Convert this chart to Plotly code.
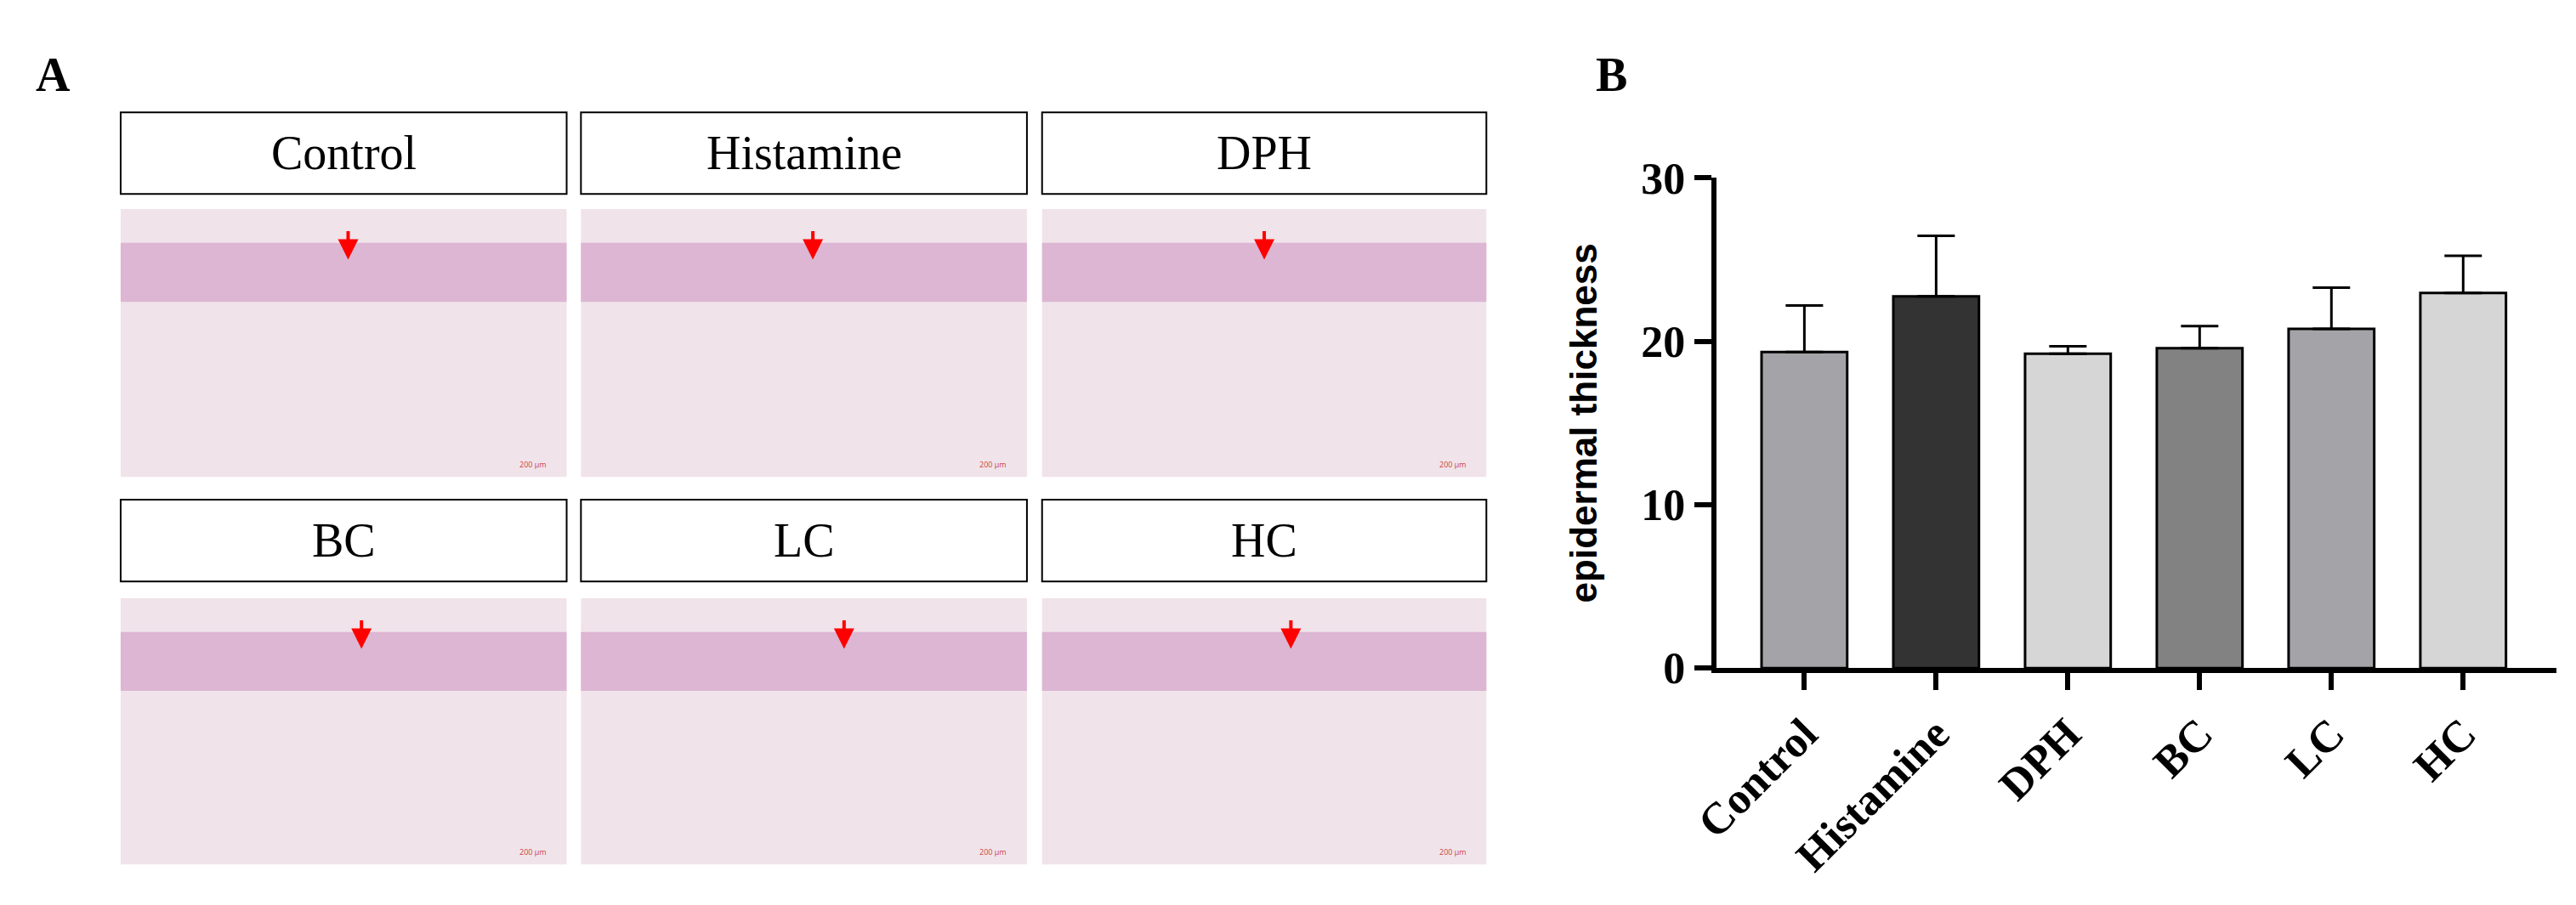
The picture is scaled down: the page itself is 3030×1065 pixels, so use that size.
import plotly.graph_objects as go

categories = ["Control", "Histamine", "DPH", "BC", "LC", "HC"]
means = [19.35, 22.76, 19.25, 19.58, 20.77, 22.96]
err_top = [22.2, 26.46, 19.7, 20.94, 23.29, 25.24]
colors = ["#a4a3a8", "#333333", "#d6d6d6", "#828282", "#a4a3a8", "#d6d6d6"]
errs = [t - m for t, m in zip(err_top, means)]
panel_labels = [["Control", "Histamine", "DPH"], ["BC", "LC", "HC"]]
arrow_x = [[0.51, 0.52, 0.50], [0.54, 0.59, 0.56]]

W, H = 3030, 1065
fig = go.Figure()
fig.add_trace(go.Bar(
    x=categories, y=means, marker=dict(color=colors, line=dict(color="black", width=3)),
    width=0.65,
    error_y=dict(type="data", symmetric=False, array=errs, arrayminus=[0]*6,
                 color="black", thickness=3, width=22),
))

def px(x): return (x - 17) / W
def pxa(x): return (x - 36) / W
def py(y): return 1 - ((y - 35) / 0.955) / H

shapes, ann = [], []
cols = [(140, 670), (687, 1217), (1235, 1763)]
rows = [((132, 229), (247, 565)), ((592, 689), (709, 1025))]
for r, ((ly0, ly1), (iy0, iy1)) in enumerate(rows):
    for c, (x0, x1) in enumerate(cols):
        shapes.append(dict(type="rect", xref="paper", yref="paper", x0=pxa(x0), x1=pxa(x1),
                           y0=py(ly1), y1=py(ly0), line=dict(color="black", width=2), fillcolor="white"))
        shapes.append(dict(type="rect", xref="paper", yref="paper", x0=pxa(x0), x1=pxa(x1),
                           y0=py(iy1), y1=py(iy0), line=dict(width=0), fillcolor="#f1e3ea"))
        shapes.append(dict(type="rect", xref="paper", yref="paper", x0=pxa(x0), x1=pxa(x1),
                           y0=py(iy0 + 110), y1=py(iy0 + 40), line=dict(width=0), fillcolor="#dcb6d2"))
        ann.append(dict(x=pxa((x0 + x1) / 2), y=py((ly0 + ly1) / 2), xref="paper", yref="paper",
                        xanchor="center", yanchor="middle",
                        text=panel_labels[r][c], showarrow=False,
                        font=dict(family="Liberation Serif", size=56, color="black")))
        ax = pxa(x0 + arrow_x[r][c] * (x1 - x0))
        ann.append(dict(x=ax, y=py(iy0 + 60), xref="paper", yref="paper", ax=0, ay=-35,
                        text="", showarrow=True, arrowhead=2,
                        arrowsize=1.2, arrowwidth=4, arrowcolor="red"))
        ann.append(dict(x=pxa(x1 - 40), y=py(iy1 - 15), xref="paper", yref="paper", text="200 μm",
                        xanchor="center", yanchor="middle",
                        showarrow=False, font=dict(size=9, color="#cc4444")))

ann.append(dict(x=pxa(60), y=py(87), xref="paper", yref="paper", text="<b>A</b>", showarrow=False,
                xanchor="center", yanchor="middle",
                font=dict(family="Liberation Serif", size=56, color="black")))
ann.append(dict(x=px(1893), y=py(87), xref="paper", yref="paper", text="<b>B</b>", showarrow=False,
                xanchor="center", yanchor="middle",
                font=dict(family="Liberation Serif", size=56, color="black")))

fig.update_layout(
    width=W, height=H, margin=dict(l=0, r=0, t=0, b=0),
    paper_bgcolor="white", plot_bgcolor="white", showlegend=False,
    shapes=shapes, annotations=ann,
    xaxis=dict(domain=[px(2017), px(3016)], range=[-0.67, 5.71], showline=True, linewidth=6,
               linecolor="black", ticks="outside", ticklen=20, tickwidth=6, tickcolor="black",
               tickangle=-45, tickfont=dict(family="Liberation Serif", size=52, color="black"),
               showgrid=False),
    yaxis=dict(domain=[py(792), py(210)], range=[0, 30], tickvals=[0, 10, 20, 30],
               ticktext=["<b>0</b>", "<b>10</b>", "<b>20</b>", "<b>30</b>"],
               showline=True, linewidth=6, linecolor="black", ticks="outside", ticklen=20,
               tickwidth=6, tickcolor="black", showgrid=False, zeroline=False,
               tickfont=dict(family="Liberation Serif", size=52, color="black"),
               title=dict(text="<b>epidermal thickness</b>", standoff=40,
                          font=dict(family="Liberation Sans", size=44, color="black"))),
)
fig.update_xaxes(ticktext=["<b>%s</b>" % c for c in categories], tickvals=categories)
fig.write_html("out.html")
